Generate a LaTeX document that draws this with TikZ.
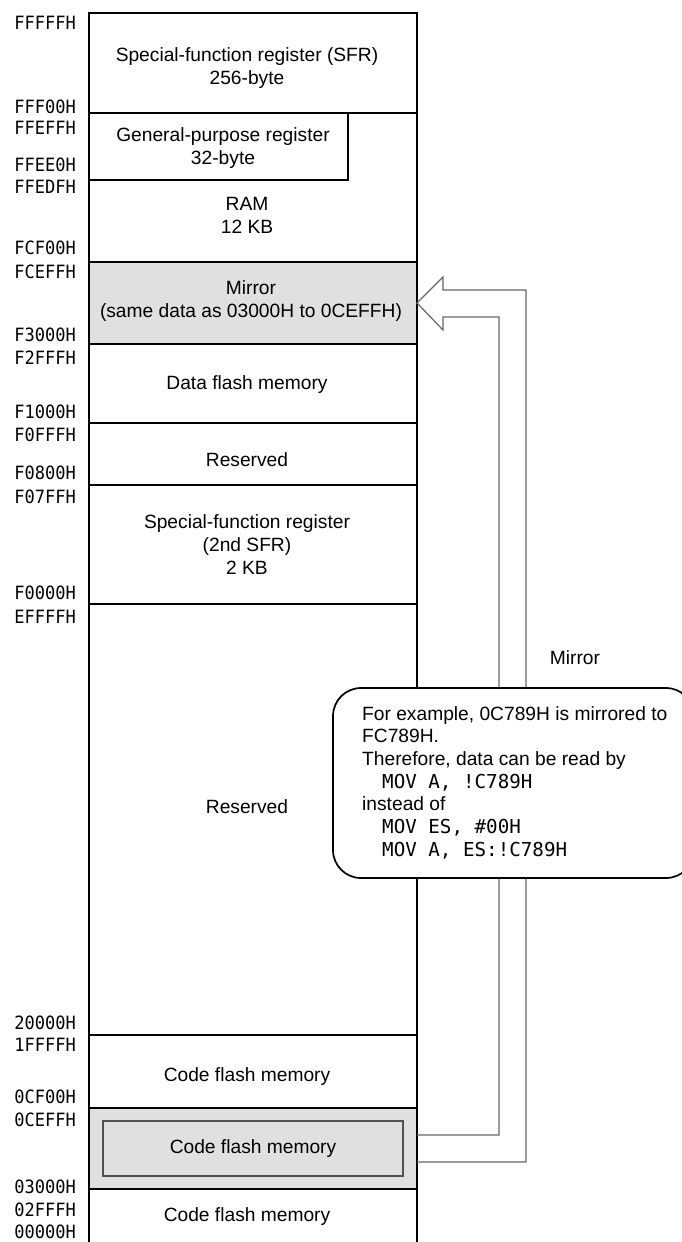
\documentclass[tikz,border=0pt]{standalone}
\usepackage{fontspec}
\setmainfont{Liberation Sans}
\newfontfamily\addrfont[FakeStretch=0.93]{DejaVu Sans Mono}
\newfontfamily\codefont{DejaVu Sans Mono}
\usepackage{xcolor}
\usepackage{tikz}
\usetikzlibrary{positioning, calc}
\definecolor{areagray}{HTML}{E0E0E0}
\definecolor{mirrorgray}{HTML}{666666}
\definecolor{innergray}{HTML}{505050}

\begin{document}
\begin{tikzpicture}[
        x=1pt, y=-1pt,
        font=\fontsize{19.2}{23}\selectfont,
        frame/.style={line width=2pt},
        divider/.style={line width=1.3pt},
        memtext/.style={inner sep=0pt, align=center},
        addr/.style={anchor=east, inner sep=0pt, font=\addrfont\fontsize{18.3}{20}\selectfont},
        mirrorline/.style={draw=mirrorgray, line width=1.2pt},
        callout/.style={draw, fill=white, line width=1.7pt, rounded corners=28pt},
        notetext/.style={inner sep=0pt, align=left, font=\fontsize{19.2}{22.7}\selectfont}
    ]
    \useasboundingbox (0,0) rectangle (681,1242);

    % Shaded areas
    \fill[areagray] (89,262) rectangle (417,344);
    \fill[areagray] (89,1108) rectangle (417,1189);
    \draw[draw=innergray, fill=areagray, line width=1.3pt] (103,1121) rectangle (403,1176);

    % Region borders
    \foreach \y in {113,262,344,423,485,604,1035,1108,1189}
        \draw[divider] (89,\y) -- (417,\y);
    \draw[divider] (89,180) -- (348,180) -- (348,113);
    \draw[frame] (89,1260) -- (89,13) -- (417,13) -- (417,1260);

    % Region names
    \node[memtext] (sfr) at (247,68.5) {Special-function register (SFR)\\256-byte};
    \node[memtext] (gpr) at (223,148.5) {General-purpose register\\32-byte};
    \node[memtext] (ram) at (247,215) {RAM\\12 KB};
    \node[memtext] (mirror) at (251,301.5) {Mirror\\(same data as 03000H to 0CEFFH)};
    \node[memtext] (dataflash) at (247,385) {Data flash memory};
    \node[memtext] (rsvdA) at (247,460) {Reserved};
    \node[memtext] (sfrB) at (247,545) {Special-function register\\(2nd SFR)\\2 KB};
    \node[memtext] (rsvdB) at (247,807) {Reserved};
    \node[memtext] (codeA) at (247,1077) {Code flash memory};
    \node[memtext] (codeB) at (253,1149) {Code flash memory};
    \node[memtext] (codeC) at (247,1217) {Code flash memory};

    % Addresses
    \foreach \y/\a in {23/FFFFFH, 107/FFF00H, 128/FFEFFH, 165/FFEE0H, 187/FFEDFH,
            248/FCF00H, 272/FCEFFH, 335/F3000H, 358/F2FFFH, 412/F1000H, 435/F0FFFH,
            473/F0800H, 497/F07FFH, 593/F0000H, 617/EFFFFH, 1023/20000H, 1045/1FFFFH,
            1097/0CF00H, 1120/0CEFFH, 1187/03000H, 1210/02FFFH, 1232/00000H}
        \node[addr] (a\a) at (76,\y) {\a};

    % Mirror arrow
    \coordinate (tip) at (417,303);
    \draw[mirrorline] (417,1162) -- (526,1162) -- (526,290) -- (443,290) -- (443,277)
        -- (tip) -- (443,330) -- (443,317) -- (499,317) -- (499,1135) -- (417,1135);
    \node[memtext] (mirrorlbl) at (575,658) {Mirror};

    % Note
    \draw[callout] (333,688) rectangle (694,878);
    \node[notetext, anchor=north west] (note) at (362,706) {For example, 0C789H is mirrored to\\
        FC789H.\\
        Therefore, data can be read by\\
        \hspace*{20pt}{\codefont MOV A, !C789H}\\
        instead of\\
        \hspace*{20pt}{\codefont MOV ES, \#00H}\\
        \hspace*{20pt}{\codefont MOV A, ES:!C789H}};

\end{tikzpicture}
\end{document}
